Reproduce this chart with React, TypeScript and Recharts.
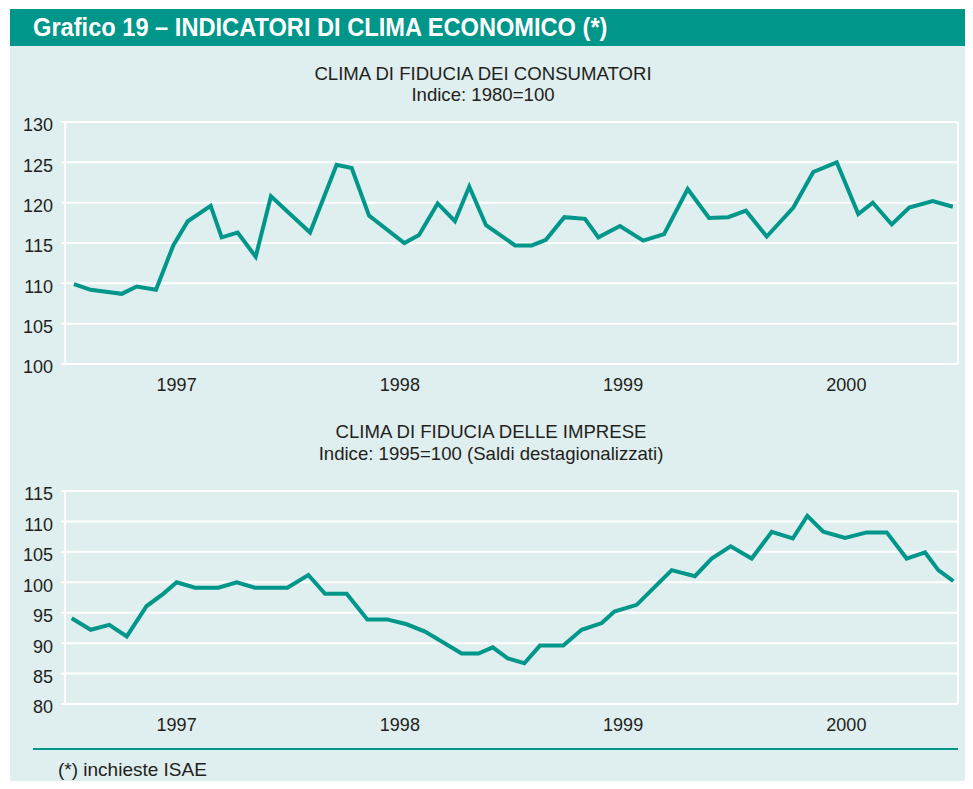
import React from 'react';
import { LineChart, Line, XAxis, YAxis, CartesianGrid } from 'recharts';

// month position (0 = start of Jan 1997) of each survey reading, and its value
const CONSUMER_MONTH = [
  0.48, 1.38, 2.2, 3.05, 3.85, 4.89, 5.82, 6.6, 7.83, 8.42, 9.28, 10.25, 11.07,
  13.17, 14.6, 15.41, 16.34, 18.24, 19.03, 20.03, 20.96, 21.73, 22.63, 24.19,
  25.09, 25.85, 26.84, 27.95, 28.67, 29.83, 31.08, 32.2, 33.47, 34.62, 35.65,
  36.6, 37.72, 39.15, 40.22, 41.48, 42.64, 43.42, 44.44, 45.38, 46.64, 47.72,
];
const CONSUMER_INDEX = [
  109.9, 109.2, 108.95, 108.7, 109.6, 109.2, 114.7, 117.7, 119.6, 115.7, 116.3,
  113.3, 120.8, 116.3, 124.7, 124.3, 118.4, 115.0, 116.0, 119.9, 117.7, 122.0,
  117.2, 114.7, 114.7, 115.4, 118.2, 118.0, 115.7, 117.1, 115.3, 116.1, 121.7,
  118.1, 118.2, 119.0, 115.8, 119.4, 123.8, 125.0, 118.6, 120.0, 117.3, 119.4,
  120.2, 119.5,
];

const BUSINESS_MONTH = [
  0.36, 1.38, 2.38, 3.32, 4.39, 5.28, 6.0, 6.99, 8.24, 9.23, 10.21, 11.95,
  13.08, 13.98, 15.14, 16.25, 17.32, 18.37, 19.35, 21.32, 22.22, 22.99, 23.8,
  24.69, 25.53, 26.78, 27.77, 28.85, 29.53, 30.73, 32.61, 33.86, 34.76, 35.78,
  36.91, 37.99, 39.12, 39.9, 40.76, 41.93, 43.09, 44.17, 45.24, 46.23, 46.94,
  47.75,
];
const BUSINESS_INDEX = [
  94.1, 92.2, 93.0, 91.1, 96.1, 98.1, 100.0, 99.1, 99.1, 100.0, 99.1, 99.1,
  101.2, 98.1, 98.1, 93.9, 93.9, 93.1, 91.9, 88.3, 88.3, 89.3, 87.5, 86.7,
  89.6, 89.6, 92.2, 93.3, 95.2, 96.3, 102.0, 101.0, 103.9, 105.9, 103.9,
  108.3, 107.2, 110.9, 108.3, 107.3, 108.2, 108.2, 103.9, 104.9, 102.0, 100.2,
];

const YEARS = ['1997', '1998', '1999', '2000'];
const YEAR_EDGES = [0, 12, 24, 36, 48];
const YEAR_MIDS = [6, 18, 30, 42];
const CONSUMER_TICKS = [100, 105, 110, 115, 120, 125, 130];
const BUSINESS_TICKS = [80, 85, 90, 95, 100, 105, 110, 115];

const TEAL = '#00968a';
const PANEL = '#dfeeee';
const INK = '#231f20';
const FONT = '"Liberation Sans", Arial, sans-serif';

const zip = (months: number[], values: number[]) =>
  months.map((t, i) => ({ t, v: values[i] }));

type PanelProps = {
  data: { t: number; v: number }[];
  domain: [number, number];
  ticks: number[];
  height: number;
};

const Panel: React.FC<PanelProps> = ({ data, domain, ticks, height }) => (
  <LineChart
    width={973}
    height={height}
    data={data}
    margin={{ top: 12, right: 15, bottom: 0, left: 8 }}
  >
    <CartesianGrid xAxisId="g" stroke="#fff" strokeWidth={2} />
    <XAxis
      xAxisId="g"
      type="number"
      dataKey="t"
      domain={[0, 48]}
      ticks={YEAR_EDGES}
      tick={false}
      tickSize={5}
      height={5}
      axisLine={{ stroke: '#fff', strokeWidth: 2 }}
      tickLine={{ stroke: '#fff', strokeWidth: 2 }}
    />
    <XAxis
      xAxisId="y"
      type="number"
      dataKey="t"
      domain={[0, 48]}
      ticks={YEAR_MIDS}
      tickFormatter={(v: number) => YEARS[YEAR_MIDS.indexOf(v)]}
      axisLine={false}
      tickLine={false}
      height={28}
      tick={{ fill: INK, fontSize: 18, fontFamily: FONT, dy: 1 }}
    />
    <YAxis
      type="number"
      domain={domain}
      ticks={ticks}
      width={57}
      tickSize={4}
      tickMargin={8}
      axisLine={{ stroke: '#fff', strokeWidth: 2 }}
      tickLine={{ stroke: '#fff', strokeWidth: 2 }}
      tick={{ fill: INK, fontSize: 18, fontFamily: FONT, dy: 3 }}
    />
    <Line
      xAxisId="g"
      type="linear"
      dataKey="v"
      stroke={TEAL}
      strokeWidth={4}
      dot={false}
      isAnimationActive={false}
    />
  </LineChart>
);

const centred = (top: number, center: number): React.CSSProperties => ({
  position: 'absolute',
  top,
  left: center - 300,
  width: 600,
  textAlign: 'center',
  fontSize: 18.6,
  lineHeight: '22px',
  color: INK,
});

export default function App() {
  return (
    <div
      style={{
        position: 'relative',
        width: 973,
        height: 789,
        margin: -8,
        background: '#fff',
        fontFamily: FONT,
        overflow: 'hidden',
      }}
    >
      <div style={{ position: 'absolute', left: 10, top: 9, width: 963, height: 37, background: TEAL }} />
      <div
        style={{
          position: 'absolute',
          left: 33,
          top: 9,
          height: 37,
          lineHeight: '37px',
          color: '#fff',
          fontWeight: 'bold',
          fontSize: 25,
          whiteSpace: 'nowrap',
          transform: 'scaleX(0.945)',
          transformOrigin: 'left center',
        }}
      >
        Grafico 19 – INDICATORI DI CLIMA ECONOMICO (*)
      </div>
      <div style={{ position: 'absolute', left: 10, top: 46, width: 963, height: 743, background: PANEL }} />

      <div style={centred(63, 483)}>CLIMA DI FIDUCIA DEI CONSUMATORI</div>
      <div style={centred(84, 483)}>Indice: 1980=100</div>
      <div style={{ position: 'absolute', left: 0, top: 110 }}>
        <Panel data={zip(CONSUMER_MONTH, CONSUMER_INDEX)} domain={[100, 130]} ticks={CONSUMER_TICKS} height={287} />
      </div>

      <div style={centred(421, 491)}>CLIMA DI FIDUCIA DELLE IMPRESE</div>
      <div style={centred(443, 491)}>Indice: 1995=100 (Saldi destagionalizzati)</div>
      <div style={{ position: 'absolute', left: 0, top: 479 }}>
        <Panel data={zip(BUSINESS_MONTH, BUSINESS_INDEX)} domain={[80, 115]} ticks={BUSINESS_TICKS} height={258} />
      </div>

      <div style={{ position: 'absolute', left: 33, top: 748, width: 925, height: 2, background: TEAL }} />
      <div style={{ position: 'absolute', left: 58, top: 759, fontSize: 19, color: INK }}>(*) inchieste ISAE</div>
    </div>
  );
}
